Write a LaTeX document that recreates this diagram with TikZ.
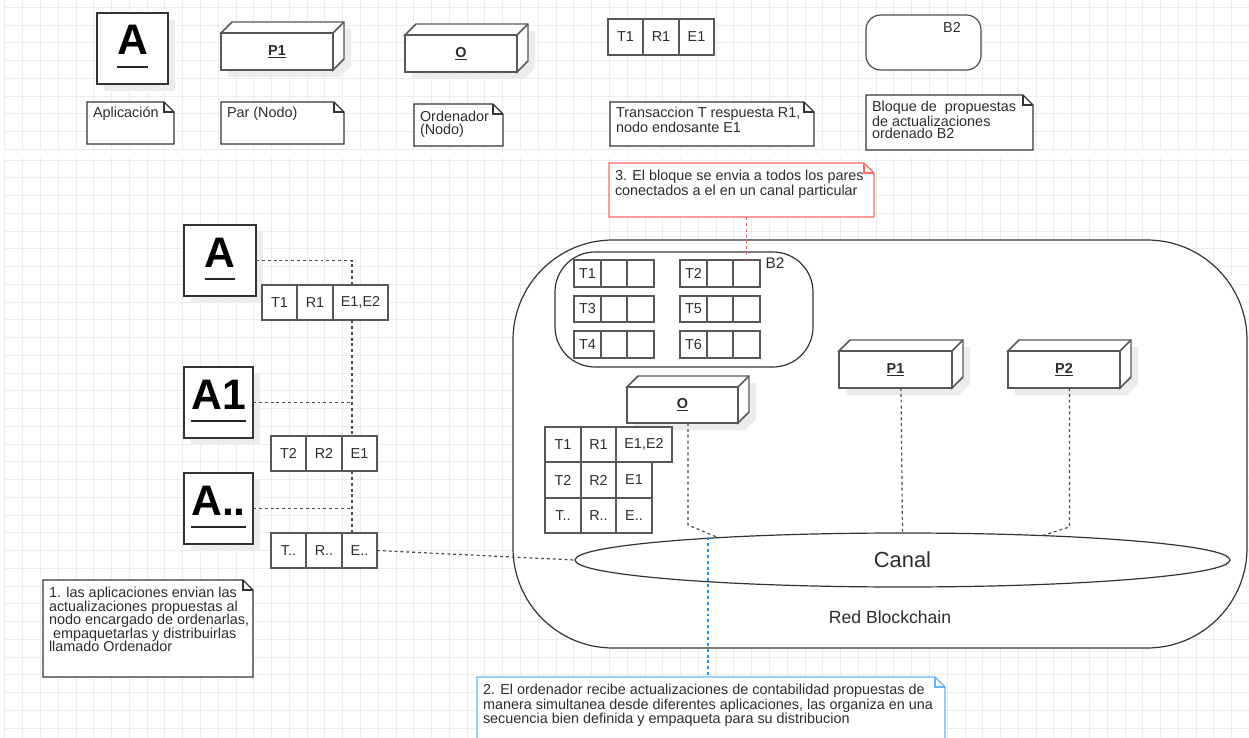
\documentclass[tikz,border=0pt]{standalone}
\usepackage{fontspec}
\setmainfont{Liberation Sans}
\usetikzlibrary{shapes.geometric}

\definecolor{gridc}{RGB}{236,236,236}
\definecolor{notered}{RGB}{255,105,105}
\definecolor{noteblue}{RGB}{100,180,255}
\definecolor{linkblue}{RGB}{30,150,255}
\definecolor{inkc}{RGB}{45,45,45}
\definecolor{edgec}{RGB}{88,88,88}
\definecolor{shadowc}{RGB}{236,236,236}

\tikzset{
  gridline/.style={draw=gridc, line width=0.7pt},
  boxline/.style={draw=edgec, line width=1.1pt},
  cubefront/.style={boxline, fill=white, inner sep=0, outer sep=0, text=inkc,
    font=\fontsize{10.8}{12}\selectfont},
  cellst/.style={draw=edgec, line width=1.1pt, fill=white, inner sep=0, outer sep=0,
    text=inkc, font=\fontsize{10.8}{12}\selectfont},
  appst/.style={draw=black!80, line width=1.1pt, fill=white, inner sep=0, outer sep=0},
  bigletter/.style={inner sep=0, outer sep=0, font=\fontsize{32}{36}\selectfont\bfseries},
  uline/.style={draw=black!85, line width=0.9pt},
  notel/.style={line width=0.9pt, fill=white},
  notetext/.style={anchor=north west, inner sep=0, outer sep=0, align=left, text=inkc},
  lbl/.style={inner sep=0, outer sep=0, text=inkc, font=\fontsize{10.8}{12}\selectfont},
  conn/.style={draw=black!70, line width=0.9pt, dash pattern=on 2.2pt off 2.2pt},
  redconn/.style={draw=notered, line width=1pt, dash pattern=on 2.2pt off 2.2pt},
  blueconn/.style={draw=linkblue, line width=1.1pt, dash pattern=on 2.2pt off 2.2pt},
  roundbox/.style={draw=black!80, line width=0.9pt, fill=white, inner sep=0, outer sep=0},
}

% 3D node box: name, x1, y1, x2, y2 (front face), label
\newcommand\umlcube[6]{%
  \fill[shadowc] (#2+7,#3+7) -- (#2+18,#3-4) -- (#4+18,#3-4) -- (#4+18,#5-4)
    -- (#4+7,#5+7) -- (#2+7,#5+7) -- cycle;
  \filldraw[boxline, fill=white] (#2,#3) -- (#2+11,#3-11) -- (#4+11,#3-11)
    -- (#4+11,#5-11) -- (#4,#5) -- (#4,#3) -- cycle;
  \node[cubefront, minimum width={(#4-#2)*0.75pt}, minimum height={(#5-#3)*0.75pt}]
    (#1) at ({(#2+#4)/2},{(#3+#5)/2}) {\underline{\textbf{#6}}};
  \draw[boxline] (#1.north east) -- ++(11,-11);
}

% table cell: name, x1, y1, x2, y2, text
\newcommand\tcell[6]{%
  \node[cellst, minimum width={(#4-#2)*0.75pt}, minimum height={(#5-#3)*0.75pt}]
    (#1) at ({(#2+#4)/2},{(#3+#5)/2}) {#6};
}

% application box: name, x1, y1, x2, y2, letters, baseline
\newcommand\appbox[7]{%
  \fill[shadowc] (#2+7,#3+7) rectangle (#4+7,#5+7);
  \node[appst, minimum width={(#4-#2)*0.75pt}, minimum height={(#5-#3)*0.75pt}]
    (#1) at ({(#2+#4)/2},{(#3+#5)/2}) {};
  \node[bigletter, anchor=base] (#1-t) at ({(#2+#4)/2},#7) {#6};
  \draw[uline] ([yshift=-9pt]#1-t.base west) -- ([yshift=-9pt]#1-t.base east);
}

% note with folded corner: name, x1, y1, x2, y2, colour, text top offset, baselineskip, text
\newcommand\notebox[9]{%
  \node[inner sep=0, outer sep=0, minimum width={(#4-#2)*0.75pt},
    minimum height={(#5-#3)*0.75pt}] (#1) at ({(#2+#4)/2},{(#3+#5)/2}) {};
  \filldraw[notel, draw=#6] (#2,#3) -- (#4-10,#3) -- (#4,#3+10) -- (#4,#5) -- (#2,#5) -- cycle;
  \draw[notel, fill=none, draw=#6] (#4-10,#3) -- (#4-10,#3+10) -- (#4,#3+10);
  \node[notetext, font=\fontsize{10.8}{#8}\selectfont] (#1-t) at (#2+6,#3+#7) {#9};
}

\begin{document}
\begin{tikzpicture}[x=0.75pt,y=-0.75pt]
\useasboundingbox (0,0) rectangle (1249,738);
\clip (0,0) rectangle (1249,738);
\fill[white] (0,0) rectangle (1249,738);

% background grid, in two bands
\foreach \k in {0,...,70} {
  \draw[gridline] ({4.9+\k*17.78},0) -- ({4.9+\k*17.78},150);
  \draw[gridline] ({4.9+\k*17.78},158) -- ({4.9+\k*17.78},738);
}
\foreach \k in {0,...,8} \draw[gridline] (5,{7.3+\k*17.75}) -- (1249,{7.3+\k*17.75});
\foreach \k in {0,...,32} \draw[gridline] (5,{160+\k*17.75}) -- (1249,{160+\k*17.75});

% ---------- legend ----------
\appbox{la}{97}{13}{168}{84}{A}{55}
\umlcube{lp1}{221}{33}{333}{70}{P1}
\umlcube{lo}{405}{35}{517}{72}{O}
\tcell{lt1}{608}{19}{643}{55}{T1}
\tcell{lt2}{643}{19}{679}{55}{R1}
\tcell{lt3}{679}{19}{714}{55}{E1}
\node[roundbox, draw=black!70, rounded corners=11pt, minimum width=115*0.75pt,
  minimum height=55*0.75pt] (lb2) at (923.5,42.5) {};
\node[lbl] (lb2-t) at (952,27) {B2};

\notebox{napl}{87}{102}{174}{144}{black!80}{5}{11.25pt}{Aplicación}
\notebox{npar}{221}{102}{344}{144}{black!80}{5}{11.25pt}{Par (Nodo)}
\notebox{nord}{414}{104}{503}{146}{black!80}{7}{10pt}{Ordenador\\(Nodo)}
\notebox{ntr}{610}{102}{814}{146}{black!80}{5}{11.25pt}{Transaccion T respuesta R1,\\nodo endosante E1}
\notebox{nbl}{866}{95}{1033}{150}{black!80}{6}{9.5pt}{Bloque de \ propuestas\\de actualizaciones\\ordenado B2}

% ---------- blockchain network ----------
\node[roundbox, rounded corners=75pt, minimum width=734*0.75pt, minimum height=408*0.75pt]
  (red) at (880,444) {};
\node[inner sep=0, text=inkc, font=\fontsize{13.2}{15}\selectfont] (red-t) at (890,617) {Red Blockchain};

\node[ellipse, draw=black!80, line width=0.9pt, fill=white, inner sep=0,
  minimum width=655*0.75pt, minimum height=54*0.75pt, text=inkc,
  font=\fontsize{16.4}{18}\selectfont] (canal) at (902.5,560) {Canal};

% ordered block B2
\node[roundbox, rounded corners=30pt, minimum width=258*0.75pt, minimum height=115*0.75pt]
  (blk) at (684,309.5) {};
\node[lbl, font=\fontsize{11.5}{13}\selectfont] (blk-t) at (775,263) {B2};
\tcell{b1a}{574}{260}{601}{287}{T1}
\tcell{b1b}{601}{260}{627}{287}{}
\tcell{b1c}{627}{260}{654}{287}{}
\tcell{b3a}{574}{296}{601}{322}{T3}
\tcell{b3b}{601}{296}{627}{322}{}
\tcell{b3c}{627}{296}{654}{322}{}
\tcell{b4a}{574}{331}{601}{358}{T4}
\tcell{b4b}{601}{331}{627}{358}{}
\tcell{b4c}{627}{331}{654}{358}{}
\tcell{b2a}{680}{260}{707}{287}{T2}
\tcell{b2b}{707}{260}{733}{287}{}
\tcell{b2c}{733}{260}{760}{287}{}
\tcell{b5a}{680}{296}{707}{322}{T5}
\tcell{b5b}{707}{296}{733}{322}{}
\tcell{b5c}{733}{296}{760}{322}{}
\tcell{b6a}{680}{331}{707}{358}{T6}
\tcell{b6b}{707}{331}{733}{358}{}
\tcell{b6c}{733}{331}{760}{358}{}

% orderer, peers and queued transactions
\umlcube{mo}{627}{387}{738}{423}{O}
\umlcube{mp1}{839}{351}{952}{388}{P1}
\umlcube{mp2}{1008}{351}{1120}{388}{P2}

\tcell{q1a}{545}{427}{581}{462}{T1}
\tcell{q1b}{581}{427}{616}{462}{R1}
\tcell{q1c}{616}{427}{672}{462}{E1,E2}
\tcell{q2a}{545}{462}{581}{498}{T2}
\tcell{q2b}{581}{462}{616}{498}{R2}
\tcell{q2c}{616}{462}{652}{498}{E1}
\tcell{q3a}{545}{498}{581}{533}{T..}
\tcell{q3b}{581}{498}{616}{533}{R..}
\tcell{q3c}{616}{498}{652}{533}{E..}

\draw[conn] ([xshift=4.1pt]mo.south) -- ++(0,102) -- (canal.173);
\draw[conn] ([xshift=4.1pt]mp1.south) -- (canal.north);
\draw[conn] ([xshift=4.1pt]mp2.south) -- ++(0,139) -- (canal.10);

% ---------- applications ----------
\appbox{ma}{184}{225}{256}{296}{A}{267}
\appbox{ma1}{184}{367}{253}{438}{A1}{409}
\appbox{maetc}{184}{473}{253}{544}{A..}{515}

\tcell{t1a}{262}{285}{297}{320}{T1}
\tcell{t1b}{297}{285}{333}{320}{R1}
\tcell{t1c}{333}{285}{388}{320}{E1,E2}
\tcell{t2a}{271}{436}{306}{471}{T2}
\tcell{t2b}{306}{436}{342}{471}{R2}
\tcell{t2c}{342}{436}{377}{471}{E1}
\tcell{t3a}{271}{533}{306}{568}{T..}
\tcell{t3b}{306}{533}{342}{568}{R..}
\tcell{t3c}{342}{533}{377}{568}{E..}

\coordinate (bus) at (352,0);
\draw[conn] (ma.east) -| (t1c.north -| bus);
\draw[conn] (t1c.south -| bus) -- (t2c.north -| bus);
\draw[conn] (ma1.east) -- (ma1.east -| bus);
\draw[conn] (t2c.south -| bus) -- (t3c.north -| bus);
\draw[conn] (maetc.east) -- (maetc.east -| bus);
\draw[conn] (t3c.east) -- (canal.west);

% ---------- step notes ----------
\notebox{n1}{43}{580}{253}{677}{black!80}{7}{10.2pt}{1. las aplicaciones envian las\\actualizaciones propuestas al\\nodo encargado de ordenarlas,\\\ empaquetarlas y distribuirlas\\llamado Ordenador}
\notebox{n3}{609}{163}{874}{217}{notered}{7}{10pt}{3. El bloque se envia a todos los pares\\conectados a el en un canal particular}
\notebox{n2}{477}{677}{945}{770}{noteblue}{7}{11pt}{2. El ordenador recibe actualizaciones de contabilidad propuestas de\\manera simultanea desde diferentes aplicaciones, las organiza en una\\secuencia bien definida y empaqueta para su distribucion}

\draw[redconn] (n3.south -| b2c.north) -- (b2c.north);
\coordinate (tap) at (708,0);
\draw[blueconn] (canal.173 -| tap) -- (n2.north -| tap);
\end{tikzpicture}
\end{document}
